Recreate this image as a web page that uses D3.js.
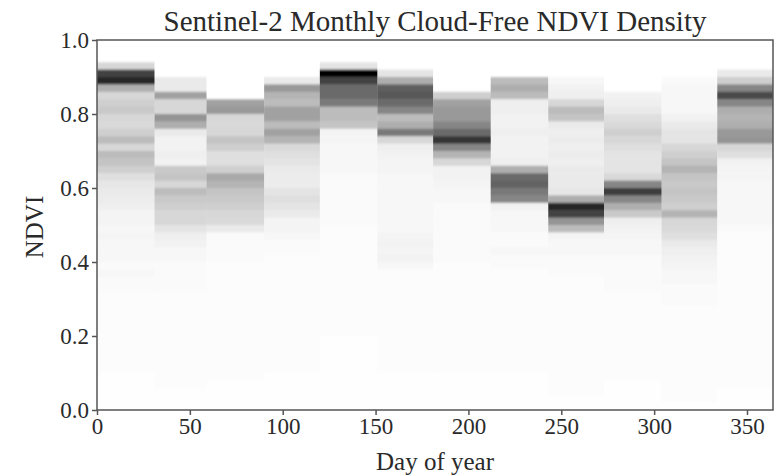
<!DOCTYPE html>
<html>
<head>
<meta charset="utf-8">
<script src="https://cdn.jsdelivr.net/npm/d3@7"></script>
<style>
  body { margin: 0; background: #fff; }
  svg text { font-family: "Liberation Serif", "Times New Roman", serif; fill: #2a2a2a; }
  .axis path, .axis line { stroke: #555; stroke-width: 1.5; }
  .axis text { font-size: 23px; }
</style>
</head>
<body>
<svg class="heat" width="776" height="476"></svg>
<script>
'use strict';

// first day of each month (day of year) and last day of the year
var MONTH_START = [0, 31, 59, 90, 120, 151, 181, 212, 243, 273, 304, 334];
var YEAR_END = 364;
var NDVI_BIN = 0.02;
var X_TICKS = [0, 50, 100, 150, 200, 250, 300, 350];
var Y_TICKS = [0, 0.2, 0.4, 0.6, 0.8, 1.0];

// density per NDVI bin, listed from the top bin (0.98-1.00) down to the bottom one (0.00-0.02)
var JAN = [0, 0, 0, 15, 70, 80, 30, 15, 18, 20,
           15, 14, 18, 25, 15, 25, 22, 18, 12, 9,
           8, 7, 6, 4, 4, 3, 4, 3, 3, 3,
           2, 3, 2, 2, 1, 1, 1, 1, 1, 1,
           1, 1, 1, 1, 1, 0.5, 0.5, 0.5, 0.5, 0.5];
var FEB = [0, 0, 0, 0, 0, 8, 8, 35, 15, 15,
           40, 30, 8, 5, 5, 6, 5, 20, 22, 15,
           25, 20, 18, 15, 15, 10, 6, 5, 3, 3,
           2, 2, 2, 2, 1, 1, 1, 1, 1, 1,
           1, 1, 1, 1, 1, 1, 1, 0.5, 0.5, 0.5];
var MAR = [0, 0, 0, 0, 0, 0, 0, 0, 35, 38,
           15, 14, 15, 22, 18, 12, 12, 18, 32, 28,
           22, 20, 18, 15, 14, 8, 2, 2, 2, 2,
           1, 1, 1, 1, 1, 1, 1, 1, 1, 1,
           1, 1, 1, 1, 1, 1, 0.5, 0.5, 0.5, 0.5];
var APR = [0, 0, 0, 0, 0, 8, 38, 28, 25, 35,
           35, 25, 35, 28, 14, 12, 10, 8, 7, 7,
           10, 12, 10, 8, 4, 4, 3, 2, 2, 1,
           1, 1, 1, 1, 1, 1, 1, 1, 1, 1,
           1, 1, 1, 1, 1, 0.5, 0.5, 0.5, 0.5, 0.5];
var MAY = [0, 0, 0, 10, 95, 70, 55, 55, 50, 25,
           25, 22, 4, 4, 3, 3, 3, 3, 2, 2,
           2, 2, 2, 2, 2, 1, 1, 1, 1, 1,
           1, 1, 1, 1, 1, 1, 1, 1, 1, 1,
           0.5, 0.5, 0.5, 0.5, 0.5, 0.5, 0.5, 0.5, 0.5, 0.5];
var JUN = [0, 0, 0, 0, 10, 30, 60, 62, 55, 45,
           25, 30, 50, 15, 6, 5, 4, 4, 3, 3,
           3, 3, 3, 3, 3, 3, 4, 5, 4, 5,
           3, 1, 1, 1, 1, 1, 1, 1, 1, 1,
           1, 1, 1, 1, 1, 0.5, 0.5, 0.5, 0.5, 0.5];
var JUL = [0, 0, 0, 0, 0, 0, 0, 18, 35, 38,
           38, 45, 55, 75, 45, 28, 15, 5, 5, 4,
           3, 3, 2, 2, 2, 2, 2, 2, 2, 2,
           1, 1, 1, 1, 1, 1, 1, 1, 1, 1,
           1, 1, 1, 1, 1, 0.5, 0.5, 0.5, 0.5, 0.5];
var AUG = [0, 0, 0, 0, 0, 25, 30, 25, 6, 6,
           5, 5, 6, 5, 5, 5, 6, 30, 55, 58,
           50, 45, 5, 3, 3, 3, 2, 2, 3, 2,
           2, 1, 1, 1, 1, 1, 1, 1, 1, 1,
           1, 1, 1, 1, 1, 0.5, 0.5, 0.5, 0.5, 0.5];
var SEP = [0, 0, 0, 0, 0, 3, 5, 6, 15, 25,
           22, 8, 6, 7, 6, 7, 6, 8, 8, 8,
           9, 30, 80, 70, 40, 25, 4, 3, 3, 2,
           2, 2, 1, 1, 1, 1, 1, 1, 1, 1,
           1, 1, 1, 1, 1, 1, 1, 1, 0.5, 0.5];
var OCT = [0, 0, 0, 0, 0, 0, 0, 5, 6, 8,
           12, 14, 18, 15, 12, 10, 10, 10, 14, 45,
           72, 45, 30, 20, 6, 5, 4, 3, 3, 2,
           2, 2, 2, 2, 1, 1, 1, 1, 1, 1,
           1, 1, 1, 1, 1, 1, 0.5, 0.5, 0.5, 0.5];
var NOV = [0, 0, 0, 0, 0, 2, 3, 3, 3, 3,
           5, 8, 10, 10, 15, 18, 22, 28, 22, 20,
           22, 20, 18, 28, 15, 14, 12, 8, 6, 5,
           4, 3, 3, 2, 2, 2, 1, 1, 1, 1,
           1, 1, 1, 1, 1, 1, 1, 1, 1, 0.5];
var DEC = [0, 0, 0, 0, 8, 18, 45, 68, 45, 30,
           28, 30, 38, 40, 15, 12, 5, 4, 4, 3,
           3, 3, 3, 3, 3, 2, 1, 1, 1, 1,
           1, 1, 1, 1, 1, 1, 1, 1, 1, 1,
           1, 1, 1, 1, 1, 1, 1, 0.5, 0.5, 0.5];

var MONTHS = [JAN, FEB, MAR, APR, MAY, JUN, JUL, AUG, SEP, OCT, NOV, DEC];

var MARGIN = { TOP: 40, RIGHT: 3, BOTTOM: 66, LEFT: 97 };
var WIDTH = 776 - MARGIN.LEFT - MARGIN.RIGHT;
var HEIGHT = 476 - MARGIN.TOP - MARGIN.BOTTOM;

var x = d3.scaleLinear().domain([0, YEAR_END]).range([0, WIDTH]);
var y = d3.scaleLinear().domain([0, 1]).range([HEIGHT, 0]);
var maxDensity = d3.max(MONTHS, function(m) { return d3.max(m); });
var color = d3.scaleLinear().domain([0, maxDensity]).range(['#ffffff', '#000000']);

var svg = d3.select('svg.heat');

// the reference image is slightly soft, mostly along the NDVI direction
var defs = svg.append('defs');
defs.append('filter')
    .attr('id', 'soft')
    .attr('x', 0).attr('y', 0).attr('width', 1).attr('height', 1)
    .append('feGaussianBlur')
    .attr('stdDeviation', '0.6 1.3');
defs.append('clipPath')
    .attr('id', 'plotclip')
    .append('rect')
    .attr('width', WIDTH)
    .attr('height', HEIGHT);

var g = svg.append('g')
    .attr('transform', 'translate(' + MARGIN.LEFT + ',' + MARGIN.TOP + ')');

// flatten into cells
var cells = [];
MONTHS.forEach(function(vals, mi) {
    var x0 = MONTH_START[mi];
    var x1 = mi < MONTH_START.length - 1 ? MONTH_START[mi + 1] : YEAR_END;
    vals.forEach(function(v, k) {
        var top = 1 - k * NDVI_BIN;
        cells.push({ x0: x0, x1: x1, top: top, bottom: top - NDVI_BIN, v: v });
    });
});

g.append('g')
    .attr('clip-path', 'url(#plotclip)')
    .append('g')
    .attr('filter', 'url(#soft)')
    .selectAll('rect')
    .data(cells)
    .enter()
    .append('rect')
    .attr('x', function(d) { return x(d.x0); })
    .attr('width', function(d) { return x(d.x1) - x(d.x0) + 0.3; })
    .attr('y', function(d) { return y(d.top); })
    .attr('height', function(d) { return y(d.bottom) - y(d.top) + 0.5; })
    .attr('fill', function(d) { return color(d.v); });

// frame
g.append('rect')
    .attr('width', WIDTH)
    .attr('height', HEIGHT)
    .attr('fill', 'none')
    .attr('stroke', '#555')
    .attr('stroke-width', 1.5);

g.append('g')
    .attr('class', 'x axis')
    .attr('transform', 'translate(0,' + HEIGHT + ')')
    .call(d3.axisBottom(x).tickValues(X_TICKS).tickSize(5).tickPadding(3));

g.append('g')
    .attr('class', 'y axis')
    .call(d3.axisLeft(y).tickValues(Y_TICKS).tickSize(5).tickPadding(3).tickFormat(d3.format('.1f')));

g.selectAll('.axis .domain').remove();

svg.append('text')
    .attr('x', MARGIN.LEFT + WIDTH / 2)
    .attr('y', 31)
    .attr('text-anchor', 'middle')
    .style('font-size', '29px')
    .text('Sentinel-2 Monthly Cloud-Free NDVI Density');

svg.append('text')
    .attr('x', MARGIN.LEFT + WIDTH / 2)
    .attr('y', 470)
    .attr('text-anchor', 'middle')
    .style('font-size', '25px')
    .text('Day of year');

svg.append('text')
    .attr('transform', 'translate(43,' + (MARGIN.TOP + HEIGHT / 2 + 2) + ') rotate(-90)')
    .attr('text-anchor', 'middle')
    .style('font-size', '25px')
    .text('NDVI');
</script>
</body>
</html>
